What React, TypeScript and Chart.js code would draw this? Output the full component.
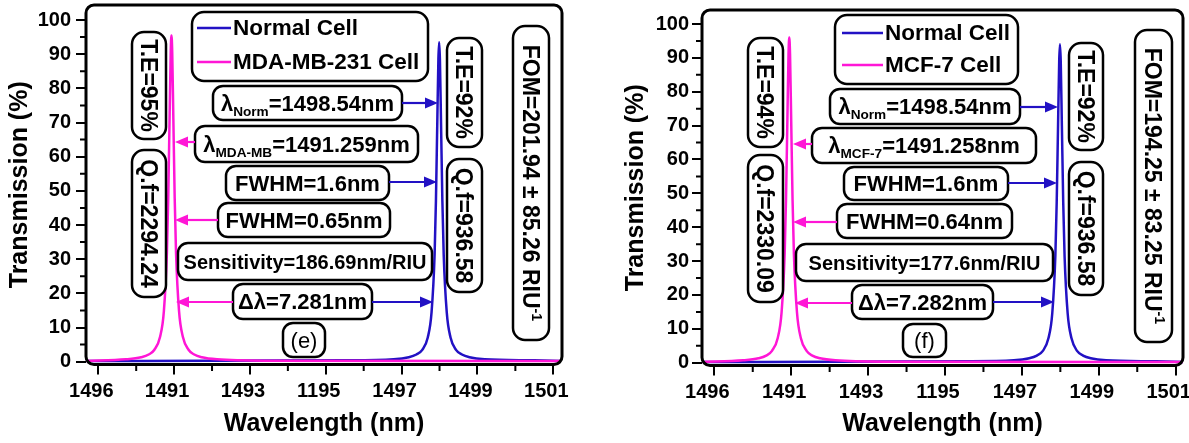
import React, { useEffect, useRef } from 'react';
import { Chart, registerables } from 'chart.js';

Chart.register(...registerables);

const FONT = '"Liberation Sans", Arial, Helvetica, sans-serif';
const BLUE = '#2211c4';
const PINK = '#ff16d6';
const H = 443;

// Axis ticks (labels exactly as printed in the figure)
const xTickValues = [1489, 1491, 1493, 1495, 1497, 1499, 1501];
const xTickLabels = ['1496', '1491', '1493', '1195', '1497', '1499', '1501'];
const xMinorValues = [1490, 1492, 1494, 1496, 1498, 1500];
const yTickValues = [0, 10, 20, 30, 40, 50, 60, 70, 80, 90, 100];
const yMinorValues = [5, 15, 25, 35, 45, 55, 65, 75, 85, 95];

// Panel (e): Normal cell vs MDA-MB-231 cell
const normalWavelengthE = [1488.69, 1495.5, 1496.79, 1497.19, 1497.39, 1497.54, 1497.69, 1497.79, 1497.87, 1497.905, 1497.94, 1497.97, 1497.99, 1498.01, 1498.04, 1498.075, 1498.11, 1498.19, 1498.29, 1498.44, 1498.59, 1498.79, 1499.19, 1500.5, 1501.2];
const normalTransE = [0.2, 0.4, 0.7, 1.3, 2.1, 3.4, 7.1, 14.5, 31.3, 47, 69.5, 88.6, 93.5, 88.6, 69.5, 47, 31.3, 14.5, 7.1, 3.4, 2.1, 1.3, 0.7, 0.4, 0.2];
const mdaWavelength = [1488.69, 1489.73, 1490.13, 1490.33, 1490.48, 1490.63, 1490.73, 1490.81, 1490.845, 1490.88, 1490.91, 1490.93, 1490.95, 1490.98, 1491.015, 1491.05, 1491.13, 1491.23, 1491.38, 1491.53, 1491.73, 1492.13, 1493.5, 1501.2];
const mdaTrans = [0.2, 0.7, 1.3, 2.1, 3.5, 7.3, 14.8, 32, 48, 71, 90.5, 95.5, 90.5, 71, 48, 32, 14.8, 7.3, 3.5, 2.1, 1.3, 0.7, 0.3, 0.2];
const legendLabelsE = ['Normal Cell', 'MDA-MB-231 Cell'];

// Panel (f): Normal cell vs MCF-7 cell
const normalWavelengthF = [1488.69, 1495.5, 1496.79, 1497.19, 1497.39, 1497.54, 1497.69, 1497.79, 1497.87, 1497.905, 1497.94, 1497.97, 1497.99, 1498.01, 1498.04, 1498.075, 1498.11, 1498.19, 1498.29, 1498.44, 1498.59, 1498.79, 1499.19, 1500.5, 1501.2];
const normalTransF = [0.2, 0.4, 0.7, 1.3, 2.1, 3.4, 7.2, 14.6, 31.5, 47.2, 69.9, 89, 94, 89, 69.9, 47.2, 31.5, 14.6, 7.2, 3.4, 2.1, 1.3, 0.7, 0.4, 0.2];
const mcfWavelength = [1488.69, 1489.75, 1490.15, 1490.35, 1490.5, 1490.65, 1490.75, 1490.83, 1490.865, 1490.9, 1490.93, 1490.95, 1490.97, 1491.0, 1491.035, 1491.07, 1491.15, 1491.25, 1491.4, 1491.55, 1491.75, 1492.15, 1493.5, 1501.2];
const mcfTrans = [0.2, 0.7, 1.3, 2.1, 3.5, 7.3, 14.9, 32.2, 48.2, 71.4, 91, 96, 91, 71.4, 48.2, 32.2, 14.9, 7.3, 3.5, 2.1, 1.3, 0.7, 0.3, 0.2];
const legendLabelsF = ['Normal Cell', 'MCF-7 Cell'];

type Part = { t: string; s?: 'sub' | 'sup' };
type Box = { r: number[]; parts: Part[]; vertical?: boolean; size?: number; weight?: string };
type Arrow = { from: number[]; to: number[]; color: string };
type PanelCfg = {
  offsetX: number;
  width: number;
  area: { left: number; top: number; right: number; bottom: number };
  xMin: number; xMax: number; yMin: number; yMax: number;
  yTitlePad: number; yLabelPad: number; xTitlePad: number; xLabelOffset: number;
  normalX: number[]; normalY: number[]; cellX: number[]; cellY: number[];
  legend: string[]; legendBox: number[]; legendLineX: number[]; legendY: number[]; legendTextX: number;
  boxes: Box[]; arrows: Arrow[];
};

const panelE: PanelCfg = {
  offsetX: 0,
  width: 595,
  area: { left: 86, top: 5, right: 562, bottom: 364.5 },
  xMin: 1488.676, xMax: 1501.23, yMin: -0.82, yMax: 104.39,
  yTitlePad: 5, yLabelPad: 5, xTitlePad: 4, xLabelOffset: -7,
  normalX: normalWavelengthE, normalY: normalTransE, cellX: mdaWavelength, cellY: mdaTrans,
  legend: legendLabelsE, legendBox: [192, 12, 428, 81], legendLineX: [197, 231], legendY: [28, 62], legendTextX: 233,
  boxes: [
    { r: [213, 86, 402, 120], parts: [{ t: 'λ' }, { t: 'Norm', s: 'sub' }, { t: '=1498.54nm' }] },
    { r: [195, 126, 418, 162], parts: [{ t: 'λ' }, { t: 'MDA-MB', s: 'sub' }, { t: '=1491.259nm' }] },
    { r: [226, 166, 389, 200], parts: [{ t: 'FWHM=1.6nm' }] },
    { r: [218, 203, 390, 237], parts: [{ t: 'FWHM=0.65nm' }] },
    { r: [178, 243, 432, 280], parts: [{ t: 'Sensitivity=186.69nm/RIU' }], size: 20 },
    { r: [233, 284, 372, 319], parts: [{ t: 'Δλ=7.281nm' }] },
    { r: [283, 323, 325, 357], parts: [{ t: '(e)' }], weight: 'normal' },
    { r: [132, 32, 166, 139], parts: [{ t: 'T.E=95%' }], vertical: true },
    { r: [132, 150, 166, 297], parts: [{ t: 'Q.f=2294.24' }], vertical: true },
    { r: [447, 38, 482, 147], parts: [{ t: 'T.E=92%' }], vertical: true },
    { r: [447, 159, 482, 292], parts: [{ t: 'Q.f=936.58' }], vertical: true },
    { r: [513, 26, 549, 340], parts: [{ t: 'FOM=201.94 ± 85.26 RIU' }, { t: '-1', s: 'sup' }], vertical: true },
  ],
  arrows: [
    { from: [402, 103], to: [438, 103], color: BLUE },
    { from: [195, 142], to: [175, 142], color: PINK },
    { from: [389, 182], to: [437, 182], color: BLUE },
    { from: [218, 220], to: [175, 220], color: PINK },
    { from: [233, 302], to: [176, 302], color: PINK },
    { from: [372, 302], to: [433, 302], color: BLUE },
  ],
};

const panelF: PanelCfg = {
  offsetX: 595,
  width: 594,
  area: { left: 107, top: 10, right: 588, bottom: 365.5 },
  xMin: 1488.68, xMax: 1501.19, yMin: -0.83, yMax: 104.13,
  yTitlePad: 26, yLabelPad: 3, xTitlePad: 4, xLabelOffset: -7,
  normalX: normalWavelengthF, normalY: normalTransF, cellX: mcfWavelength, cellY: mcfTrans,
  legend: legendLabelsF, legendBox: [835, 15, 1018, 84], legendLineX: [842, 883], legendY: [33, 65], legendTextX: 885,
  boxes: [
    { r: [830, 89, 1020, 124], parts: [{ t: 'λ' }, { t: 'Norm', s: 'sub' }, { t: '=1498.54nm' }] },
    { r: [812, 128, 1036, 163], parts: [{ t: 'λ' }, { t: 'MCF-7', s: 'sub' }, { t: '=1491.258nm' }] },
    { r: [844, 167, 1008, 200], parts: [{ t: 'FWHM=1.6nm' }] },
    { r: [837, 204, 1012, 238], parts: [{ t: 'FWHM=0.64nm' }] },
    { r: [796, 244, 1053, 281], parts: [{ t: 'Sensitivity=177.6nm/RIU' }], size: 20 },
    { r: [852, 285, 993, 319], parts: [{ t: 'Δλ=7.282nm' }] },
    { r: [903, 324, 946, 357], parts: [{ t: '(f)' }], weight: 'normal' },
    { r: [748, 38, 783, 147], parts: [{ t: 'T.E=94%' }], vertical: true },
    { r: [748, 155, 783, 302], parts: [{ t: 'Q.f=2330.09' }], vertical: true },
    { r: [1069, 43, 1103, 150], parts: [{ t: 'T.E=92%' }], vertical: true },
    { r: [1069, 162, 1103, 295], parts: [{ t: 'Q.f=936.58' }], vertical: true },
    { r: [1135, 30, 1172, 342], parts: [{ t: 'FOM=194.25 ± 83.25 RIU' }, { t: '-1', s: 'sup' }], vertical: true },
  ],
  arrows: [
    { from: [1020, 107], to: [1058, 107], color: BLUE },
    { from: [812, 144], to: [793, 144], color: PINK },
    { from: [1008, 183], to: [1057, 183], color: BLUE },
    { from: [837, 222], to: [793, 222], color: PINK },
    { from: [852, 303], to: [795, 303], color: PINK },
    { from: [993, 302], to: [1054, 302], color: BLUE },
  ],
};

function roundRectPath(ctx: CanvasRenderingContext2D, x: number, y: number, w: number, h: number, r: number) {
  const rr = Math.min(r, w / 2, h / 2);
  ctx.beginPath();
  ctx.moveTo(x + rr, y);
  ctx.lineTo(x + w - rr, y);
  ctx.arcTo(x + w, y, x + w, y + rr, rr);
  ctx.lineTo(x + w, y + h - rr);
  ctx.arcTo(x + w, y + h, x + w - rr, y + h, rr);
  ctx.lineTo(x + rr, y + h);
  ctx.arcTo(x, y + h, x, y + h - rr, rr);
  ctx.lineTo(x, y + rr);
  ctx.arcTo(x, y, x + rr, y, rr);
  ctx.closePath();
}

function partFont(p: Part, size: number, weight: string) {
  const fs = p.s ? size * 0.62 : size;
  return `${weight} ${fs}px ${FONT}`;
}

function drawRich(ctx: CanvasRenderingContext2D, parts: Part[], cx: number, cy: number, size: number, weight: string) {
  let total = 0;
  for (const p of parts) {
    ctx.font = partFont(p, size, weight);
    total += ctx.measureText(p.t).width;
  }
  let x = cx - total / 2;
  const base = cy + size * 0.36;
  ctx.textAlign = 'left';
  ctx.textBaseline = 'alphabetic';
  for (const p of parts) {
    ctx.font = partFont(p, size, weight);
    const y = p.s === 'sub' ? base + size * 0.22 : p.s === 'sup' ? base - size * 0.42 : base;
    ctx.fillText(p.t, x, y);
    x += ctx.measureText(p.t).width;
  }
}

function drawArrow(ctx: CanvasRenderingContext2D, x1: number, y1: number, x2: number, y2: number, color: string) {
  const ang = Math.atan2(y2 - y1, x2 - x1);
  const hl = 13;
  const hw = 5.5;
  const bx = x2 - hl * Math.cos(ang);
  const by = y2 - hl * Math.sin(ang);
  ctx.strokeStyle = color;
  ctx.fillStyle = color;
  ctx.lineWidth = 2.2;
  ctx.beginPath();
  ctx.moveTo(x1, y1);
  ctx.lineTo(bx, by);
  ctx.stroke();
  ctx.beginPath();
  ctx.moveTo(x2, y2);
  ctx.lineTo(bx + hw * Math.sin(ang), by - hw * Math.cos(ang));
  ctx.lineTo(bx - hw * Math.sin(ang), by + hw * Math.cos(ang));
  ctx.closePath();
  ctx.fill();
}

function makeOverlay(cfg: PanelCfg) {
  return {
    id: 'overlay',
    afterDraw(chart: any) {
      const ctx: CanvasRenderingContext2D = chart.ctx;
      const { left, top, right, bottom } = chart.chartArea;
      const xs = chart.scales.x;
      const ys = chart.scales.y;
      const ox = cfg.offsetX;
      ctx.save();
      // frame
      ctx.strokeStyle = '#000';
      ctx.lineWidth = 3;
      roundRectPath(ctx, left, top, right - left, bottom - top, 8);
      ctx.stroke();
      // minor ticks
      ctx.lineWidth = 2;
      ctx.beginPath();
      for (const v of xMinorValues) {
        const px = xs.getPixelForValue(v);
        ctx.moveTo(px, bottom);
        ctx.lineTo(px, bottom + 6.5);
      }
      for (const v of yMinorValues) {
        const py = ys.getPixelForValue(v);
        ctx.moveTo(left, py);
        ctx.lineTo(left - 6, py);
      }
      ctx.stroke();
      // legend
      const lb = cfg.legendBox;
      ctx.fillStyle = '#fff';
      roundRectPath(ctx, lb[0] - ox, lb[1], lb[2] - lb[0], lb[3] - lb[1], 12);
      ctx.fill();
      ctx.strokeStyle = '#000';
      ctx.lineWidth = 2.5;
      ctx.stroke();
      const colors = [BLUE, PINK];
      for (let i = 0; i < 2; i++) {
        ctx.strokeStyle = colors[i];
        ctx.lineWidth = 2.5;
        ctx.beginPath();
        ctx.moveTo(cfg.legendLineX[0] - ox, cfg.legendY[i]);
        ctx.lineTo(cfg.legendLineX[1] - ox, cfg.legendY[i]);
        ctx.stroke();
        ctx.fillStyle = '#000';
        ctx.font = `bold 22.5px ${FONT}`;
        ctx.textAlign = 'left';
        ctx.textBaseline = 'middle';
        ctx.fillText(cfg.legend[i], cfg.legendTextX - ox, cfg.legendY[i] + 1);
      }
      // boxes
      for (const b of cfg.boxes) {
        const [x1, y1, x2, y2] = b.r;
        const bx = x1 - ox;
        ctx.fillStyle = '#fff';
        roundRectPath(ctx, bx, y1, x2 - x1, y2 - y1, b.vertical ? 12 : 10);
        ctx.fill();
        ctx.strokeStyle = '#000';
        ctx.lineWidth = 2.5;
        ctx.stroke();
        ctx.fillStyle = '#000';
        const size = b.size ?? 22;
        const weight = b.weight ?? 'bold';
        const cx = bx + (x2 - x1) / 2;
        const cy = y1 + (y2 - y1) / 2;
        if (b.vertical) {
          ctx.save();
          ctx.translate(cx, cy);
          ctx.rotate(Math.PI / 2);
          drawRich(ctx, b.parts, 0, 0, 23, weight);
          ctx.restore();
        } else {
          drawRich(ctx, b.parts, cx, cy, size, weight);
        }
      }
      // arrows
      for (const a of cfg.arrows) {
        drawArrow(ctx, a.from[0] - ox, a.from[1], a.to[0] - ox, a.to[1], a.color);
      }
      ctx.restore();
    },
  };
}

function Panel({ cfg }: { cfg: PanelCfg }) {
  const ref = useRef<HTMLCanvasElement>(null);
  useEffect(() => {
    const canvas = ref.current;
    if (!canvas) return;
    const tickFont = { family: FONT, size: 20, weight: 'bold' as const };
    const titleFont = { family: FONT, size: 25, weight: 'bold' as const };
    const chart = new Chart(canvas, {
      type: 'line',
      data: {
        datasets: [
          {
            label: cfg.legend[0],
            data: cfg.normalX.map((x, i) => ({ x, y: cfg.normalY[i] })),
            borderColor: BLUE,
            borderWidth: 2.5,
            pointRadius: 0,
            fill: false,
            cubicInterpolationMode: 'monotone',
            order: 2,
          },
          {
            label: cfg.legend[1],
            data: cfg.cellX.map((x, i) => ({ x, y: cfg.cellY[i] })),
            borderColor: PINK,
            borderWidth: 2.5,
            pointRadius: 0,
            fill: false,
            cubicInterpolationMode: 'monotone',
            order: 1,
          },
        ],
      },
      options: {
        animation: false,
        responsive: false,
        devicePixelRatio: 1,
        events: [],
        layout: { padding: { left: 0, top: cfg.area.top, right: cfg.width - cfg.area.right, bottom: 0 } },
        plugins: { legend: { display: false }, tooltip: { enabled: false } },
        scales: {
          x: {
            type: 'linear',
            position: 'bottom',
            min: cfg.xMin,
            max: cfg.xMax,
            afterBuildTicks: (s: any) => {
              s.ticks = xTickValues.map((v) => ({ value: v }));
            },
            afterFit: (s: any) => {
              s.height = H - cfg.area.bottom;
              s.paddingLeft = 0;
              s.paddingRight = 0;
            },
            ticks: {
              autoSkip: false,
              maxRotation: 0,
              minRotation: 0,
              padding: 5,
              labelOffset: cfg.xLabelOffset,
              color: '#000',
              font: tickFont,
              callback: (v: any) => {
                const i = xTickValues.indexOf(Number(v));
                return i >= 0 ? xTickLabels[i] : '';
              },
            },
            grid: { display: true, drawOnChartArea: false, drawTicks: true, tickLength: 10, color: '#000', lineWidth: 2 },
            border: { display: false },
            title: { display: true, text: 'Wavelength (nm)', color: '#000', font: titleFont, padding: { top: 0, bottom: cfg.xTitlePad } },
          },
          y: {
            type: 'linear',
            position: 'left',
            min: cfg.yMin,
            max: cfg.yMax,
            afterBuildTicks: (s: any) => {
              s.ticks = yTickValues.map((v) => ({ value: v }));
            },
            afterFit: (s: any) => {
              s.width = cfg.area.left;
              s.paddingTop = 0;
              s.paddingBottom = 0;
            },
            ticks: {
              autoSkip: false,
              padding: cfg.yLabelPad,
              color: '#000',
              font: tickFont,
              callback: (v: any) => String(v),
            },
            grid: { display: true, drawOnChartArea: false, drawTicks: true, tickLength: 10, color: '#000', lineWidth: 2 },
            border: { display: false },
            title: { display: true, text: 'Transmission (%)', color: '#000', font: titleFont, padding: { top: cfg.yTitlePad, bottom: 0 } },
          },
        },
      },
      plugins: [makeOverlay(cfg)],
    } as any);
    return () => chart.destroy();
  }, [cfg]);
  return (
    <canvas
      ref={ref}
      width={cfg.width}
      height={H}
      style={{ position: 'absolute', left: cfg.offsetX, top: 0, width: cfg.width, height: H, display: 'block' }}
    />
  );
}

export default function App() {
  return (
    <div style={{ position: 'absolute', left: 0, top: 0, width: 1189, height: H, background: '#fff', overflow: 'hidden' }}>
      <Panel cfg={panelE} />
      <Panel cfg={panelF} />
    </div>
  );
}
